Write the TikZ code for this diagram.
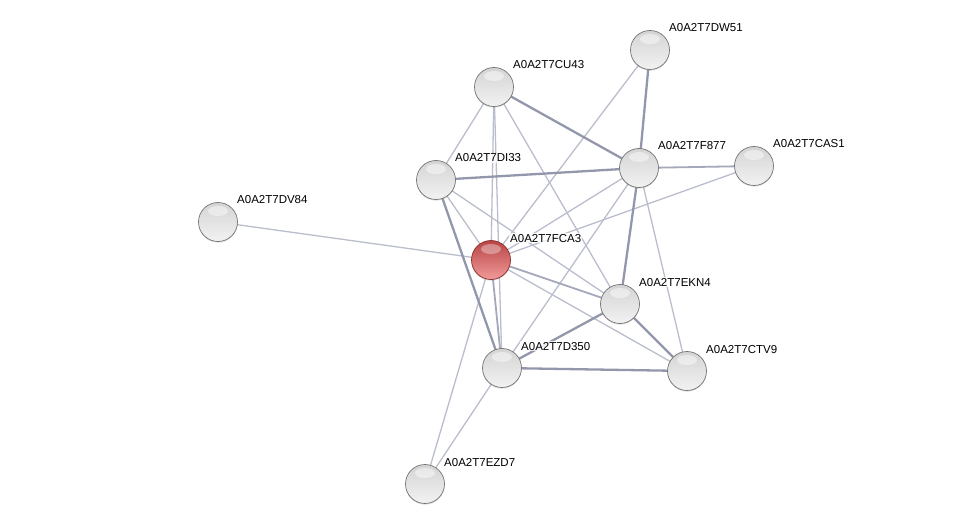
\documentclass[tikz,border=0pt]{standalone}
\usepackage{fontspec}
\setmainfont{Liberation Sans}
\usetikzlibrary{shadows}
\pgfdeclarelayer{bg}
\pgfsetlayers{bg,main}
\definecolor{edgeA}{HTML}{9297AC}
\definecolor{edgeM}{HTML}{A4A8BA}
\definecolor{edgeB}{HTML}{BABDCC}
\definecolor{gTop}{HTML}{D4D4D4}
\definecolor{gMid}{HTML}{BDBDBD}
\definecolor{gBot}{HTML}{F2F2F2}
\definecolor{gRim}{HTML}{747474}
\definecolor{rTop}{HTML}{B84444}
\definecolor{rMid}{HTML}{D45C5C}
\definecolor{rBot}{HTML}{F29A9A}
\definecolor{rRim}{HTML}{8A2C2C}
\tikzset{
  grayball/.style={circle, minimum size=39pt, inner sep=0pt,
    top color=gTop, middle color=gMid, bottom color=gBot,
    draw=gRim, line width=0.7pt,
    drop shadow={opacity=0.25, shadow xshift=0pt, shadow yshift=-1.2pt},
    path picture={
      \fill[white, opacity=0.45] ([yshift=11pt]path picture bounding box.center) ellipse (10pt and 5pt);
    }},
  redball/.style={circle, minimum size=39pt, inner sep=0pt,
    top color=rTop, middle color=rMid, bottom color=rBot,
    draw=rRim, line width=0.7pt,
    drop shadow={opacity=0.25, shadow xshift=0pt, shadow yshift=-1.2pt},
    path picture={
      \fill[white, opacity=0.35] ([yshift=11pt]path picture bounding box.center) ellipse (10pt and 5pt);
    }},
  lbl/.style={anchor=base west, font=\fontsize{11.5}{13}\selectfont, fill=white, fill opacity=0.8, text opacity=1, inner sep=1pt},
  strong/.style={draw=edgeA, line width=2.3pt},
  medium/.style={draw=edgeM, line width=1.8pt},
  weak/.style={draw=edgeB, line width=1.3pt},
}
\begin{document}
\begin{tikzpicture}[x=1pt, y=-1pt]
\useasboundingbox (0,0) rectangle (976,529);
\node[grayball] (DW51) at (650,50) {};
\node[grayball] (CU43) at (494,87) {};
\node[grayball] (F877) at (639,168) {};
\node[grayball] (CAS1) at (754,166) {};
\node[grayball] (DI33) at (436,180) {};
\node[grayball] (DV84) at (218,222) {};
\node[redball] (FCA3) at (491,260) {};
\node[grayball] (EKN4) at (620,304) {};
\node[grayball] (D350) at (502,368) {};
\node[grayball] (CTV9) at (687,371) {};
\node[grayball] (EZD7) at (425,484) {};

\node[lbl] (tDW51) at (668,32) {A0A2T7DW51};
\node[lbl] (tCU43) at (512,69) {A0A2T7CU43};
\node[lbl] (tF877) at (657,150) {A0A2T7F877};
\node[lbl] (tCAS1) at (772,148) {A0A2T7CAS1};
\node[lbl] (tDI33) at (454,162) {A0A2T7DI33};
\node[lbl] (tDV84) at (236,204) {A0A2T7DV84};
\node[lbl] (tFCA3) at (509,242) {A0A2T7FCA3};
\node[lbl] (tEKN4) at (638,286) {A0A2T7EKN4};
\node[lbl] (tD350) at (520,350) {A0A2T7D350};
\node[lbl] (tCTV9) at (705,353) {A0A2T7CTV9};
\node[lbl] (tEZD7) at (443,466) {A0A2T7EZD7};

\begin{pgfonlayer}{bg}
% weak edges
\draw[weak] (DV84.center) -- (FCA3.center);
\draw[weak] (DI33.center) -- (CU43.center);
\draw[weak] (DI33.center) -- (FCA3.center);
\draw[weak] (DI33.center) -- (EKN4.center);
\draw[weak] (CU43.center) -- (FCA3.center);
\draw[weak] (CU43.center) -- (D350.center);
\draw[weak] (CU43.center) -- (EKN4.center);
\draw[weak] (DW51.center) -- (FCA3.center);
\draw[weak] (F877.center) -- (FCA3.center);
\draw[weak] (F877.center) -- (D350.center);
\draw[weak] (F877.center) -- (CTV9.center);
\draw[weak] (CAS1.center) -- (FCA3.center);
\draw[weak] (FCA3.center) -- (CTV9.center);
\draw[weak] (FCA3.center) -- (EZD7.center);
\draw[weak] (D350.center) -- (EZD7.center);
% medium / strong edges
\draw[medium] (F877.center) -- (CAS1.center);
\draw[medium] (FCA3.center) -- (EKN4.center);
\draw[medium] (FCA3.center) -- (D350.center);
\draw[strong] (DI33.center) -- (F877.center);
\draw[strong] (CU43.center) -- (F877.center);
\draw[strong] (DW51.center) -- (F877.center);
\draw[strong] (F877.center) -- (EKN4.center);
\draw[strong] (DI33.center) -- (D350.center);
\draw[strong] (EKN4.center) -- (D350.center);
\draw[strong] (EKN4.center) -- (CTV9.center);
\draw[strong] (D350.center) -- (CTV9.center);
\end{pgfonlayer}
\end{tikzpicture}
\end{document}
